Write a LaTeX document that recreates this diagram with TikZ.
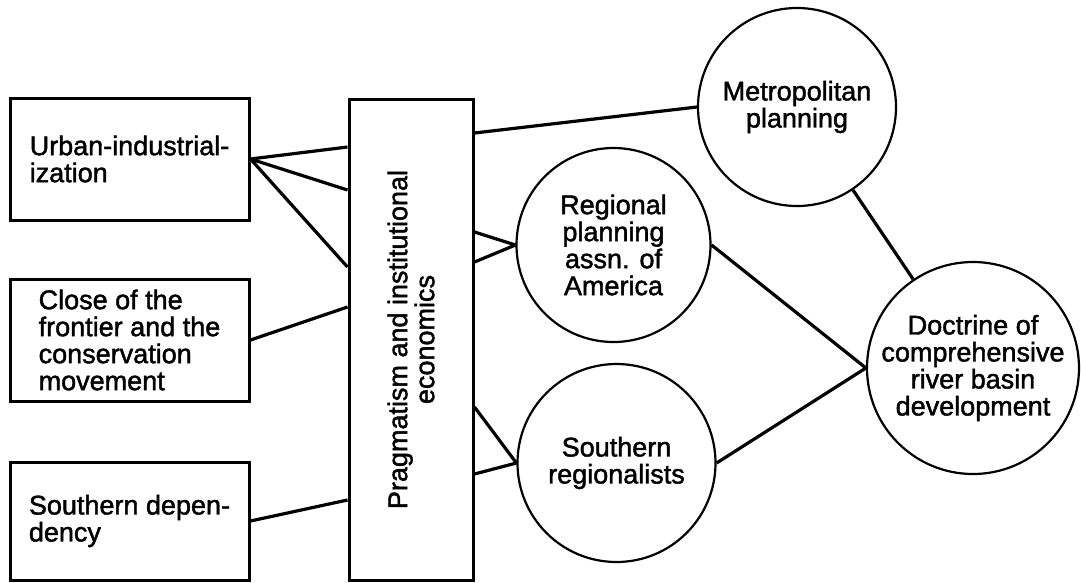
\documentclass[tikz,border=0pt]{standalone}
\usepackage{fontspec}
\setmainfont{Liberation Sans}
\newfontfamily\labelfont{Liberation Sans}[FakeBold=1.6]
\begin{document}
\begin{tikzpicture}[x=1pt,y=-1pt,
  lbl/.style={font=\labelfont\fontsize{27}{27}\selectfont},
  factor/.style={lbl, draw, line width=3pt, minimum width=239pt,
    minimum height=#1, align=left, inner sep=0pt},
  column/.style={lbl, draw, line width=3pt, minimum width=481pt,
    minimum height=124pt, align=center, inner sep=0pt, rotate=90},
  hub/.style={lbl, draw, circle, line width=2.2pt, minimum size=#1,
    align=center, inner sep=0pt},
  link/.style={line width=3.2pt}
]
\useasboundingbox (0,0) rectangle (1081,582);

% left-hand column of background factors
\node[factor=122pt] (urban) at (129.5,159) {Urban-industrial-\\ization};
\node[factor=122pt] (frontier) at (129.5,340) {Close of the\\frontier and the\\conservation\\movement};
\node[factor=118pt] (south) at (129.5,521) {Southern depen-\\dency};

% tall box with the intellectual roots
\node[column] (prag) at (411,339.5) {Pragmatism and institutional\\economics};

% movements and the resulting doctrine
\node[hub=198pt] (metro) at (797,107) {Metropolitan\\planning};
\node[hub=194pt] (rpaa) at (613.5,245) {Regional\\planning\\assn. of\\America};
\node[hub=198pt] (sreg) at (616.5,463) {Southern\\regionalists};
\node[hub=212pt] (doct) at (973,368) {Doctrine of\\comprehensive\\river basin\\development};

% attachment points on the sides of the tall box
\coordinate (pl1) at (prag.north |- 0,147);
\coordinate (pl2) at (prag.north |- 0,190);
\coordinate (pl3) at (prag.north |- 0,267);
\coordinate (pl4) at (prag.north |- 0,307);
\coordinate (pl5) at (prag.north |- 0,500);
\coordinate (pr1) at (prag.south |- 0,133);
\coordinate (pr2) at (prag.south |- 0,232);
\coordinate (pr3) at (prag.south |- 0,262);
\coordinate (pr4) at (prag.south |- 0,407);
\coordinate (pr5) at (prag.south |- 0,474);

% connectors
\draw[link] (urban.east) -- (pl1);
\draw[link] (urban.east) -- (pl2);
\draw[link] (urban.east) -- (pl3);
\draw[link] (frontier.east) -- (pl4);
\draw[link] (south.east) -- (pl5);
\draw[link] (pr1) -- (metro.west);
\draw[link] (pr2) -- (rpaa.west);
\draw[link] (pr3) -- (rpaa.west);
\draw[link] (pr4) -- (sreg.west);
\draw[link] (pr5) -- (sreg.west);
\draw[link] (rpaa.east) -- (doct.west);
\draw[link] (sreg.east) -- (doct.west);
\draw[link] (metro) -- (doct);
\end{tikzpicture}
\end{document}
